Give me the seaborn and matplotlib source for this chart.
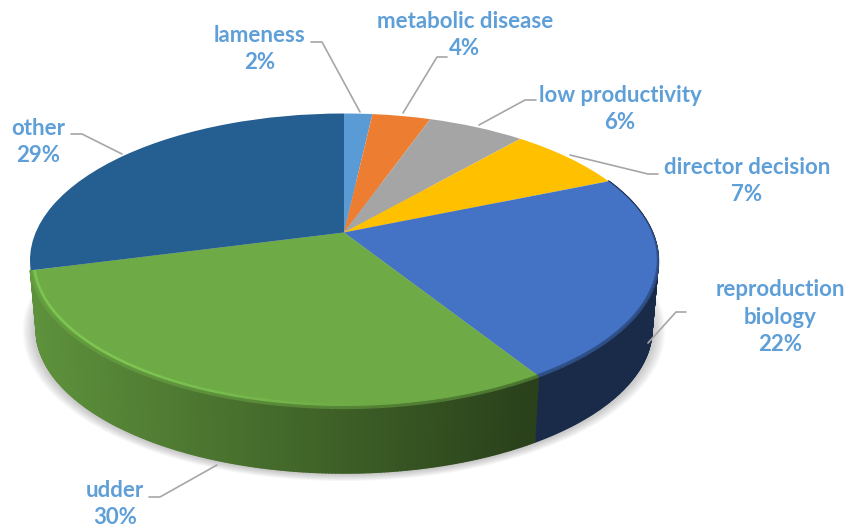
import numpy as np
import matplotlib
matplotlib.use('Agg')
import matplotlib.pyplot as plt
from matplotlib.collections import LineCollection, PolyCollection
from matplotlib.transforms import Affine2D, Transform
import seaborn as sns

categories = ['lameness', 'metabolic disease', 'low productivity', 'director decision',
              'reproduction\nbiology', 'udder', 'other']
shares = [1.75, 3.6, 6.0, 7.3, 22.49, 29.76, 29.1]
slice_colors = ['#5B9BD5', '#ED7D31', '#A5A5A5', '#FFC000', '#4472C4', '#6EAB46', '#255E91']

# Label centres and leader lines, in pixels of the picture
label_pos = [(260, 49), (465, 35), (620, 109), (747, 181), (780, 317), (115, 504), (38, 142)]
leaders = [
    [(311, 42), (322, 42), (360, 112)],
    [(447, 57), (437, 57), (403, 113)],
    [(536, 100), (525, 100), (479, 125)],
    [(658, 174), (648, 174), (570, 155)],
    [(686, 312), (676, 312), (648, 343)],
    [(149, 497), (160, 497), (217, 465)],
    [(71, 134), (82, 134), (122, 154)],
]

# Tilted disc geometry
cx, cy = 344, 232.5
sx, sy = 308.3, 141.6
tilt = 0.19
depth = 69
shrink = 0.98


class TiltedDisc(Transform):
    input_dims = 2
    output_dims = 2
    is_separable = False
    has_inverse = False

    def transform_non_affine(self, values):
        x, y = np.asarray(values).T
        w = 1 + tilt * y
        return np.column_stack([x / w, y / w])


def rim(theta, r=1.0):
    t = np.radians(theta)
    pts = TiltedDisc().transform_non_affine(np.column_stack([r * np.cos(t), r * np.sin(t)]))
    return cx + sx * pts[:, 0], cy - sy * pts[:, 1]


def lower(px, py):
    return cx + shrink * (px - cx), cy + depth + shrink * (py - cy)


def wall_shade(x):
    return np.clip(0.85 - 0.47 * (x - 33) / 497, 0.38, 0.85)


sns.set_theme(style='white')
plt.rcParams['font.family'] = ['Lato', 'DejaVu Sans']
palette = sns.color_palette(slice_colors)

fig = plt.figure(figsize=(8.49, 5.31), dpi=100)
ax = fig.add_axes([0, 0, 1, 1])

wedges, _ = ax.pie(shares, colors=palette, startangle=90, counterclock=False,
                   wedgeprops={'linewidth': 0})
ax.set_aspect('auto')
ax.set_xlim(0, 849)
ax.set_ylim(531, 0)
ax.axis('off')

to_pixels = TiltedDisc() + Affine2D().scale(sx, -sy).translate(cx, cy) + ax.transData
for w in wedges:
    w.set_transform(to_pixels)
    w.set_zorder(3)

# Soft shadow under the disc
full = np.linspace(0, 360, 240)
bx, by = lower(*rim(full))
for i in range(12):
    grow = 1 + i * 0.004
    sh = np.column_stack([cx + grow * (bx - cx), cy + 74 + grow * (by - cy - 74) + 1])
    ax.fill(sh[:, 0], sh[:, 1], color='#606060', alpha=0.035, lw=0, zorder=1)

# Side wall and rim bevel, only the two front slices show a wall
for i, w in enumerate(wedges):
    if i not in (4, 5):
        continue
    base = np.array(palette[i])
    th = np.linspace(w.theta1, w.theta2, max(int(w.theta2 - w.theta1) * 2, 8))
    px, py = rim(th)
    qx, qy = lower(px, py)
    polys, cols = [], []
    for j in range(len(th) - 1):
        polys.append([(px[j], py[j]), (px[j + 1], py[j + 1]), (qx[j + 1], qy[j + 1]), (qx[j], qy[j])])
        cols.append(base * wall_shade((px[j] + px[j + 1]) / 2))
    ax.add_collection(PolyCollection(polys, facecolors=cols, edgecolors='face', linewidths=1.4,
                                     zorder=2 + (i == 5) * 0.5))

    segs = [[(px[j], py[j]), (px[j + 1], py[j + 1])] for j in range(len(th) - 1)]
    mids = (px[:-1] + px[1:]) / 2
    blend = [base * (0.5 + 0.5 * wall_shade(m)) for m in mids]
    widths = np.clip((py[:-1] - 190) / 40, 0.4, 2.6)
    ax.add_collection(LineCollection(segs, colors=blend, linewidths=widths, zorder=4))
    if i == 5:
        hx, hy = rim(th, 0.988)
        segs = [[(hx[j], hy[j]), (hx[j + 1], hy[j + 1])] for j in range(len(th) - 1)]
        mids = (hx[:-1] + hx[1:]) / 2
        glow = np.clip((360 - mids) / 230, 0, 1)
        light = [tuple(base + g * np.array([0.07, 0.11, 0.05])) for g in glow]
        ax.add_collection(LineCollection(segs, colors=light, linewidths=1.8, zorder=4))

# Leader lines
for line in leaders:
    xs, ys = zip(*line)
    ax.plot(xs, ys, color='#A6A6A6', lw=1.2, zorder=5, solid_joinstyle='round')

# Category and percentage labels
for name, share, (lx, ly) in zip(categories, shares, label_pos):
    ax.text(lx, ly, f'{name}\n{share:.0f}%', ha='center', va='center', color='#5F9FD8',
            fontsize=16, fontweight='bold', linespacing=1.36, zorder=6)

fig.savefig('out.png', dpi=100)
